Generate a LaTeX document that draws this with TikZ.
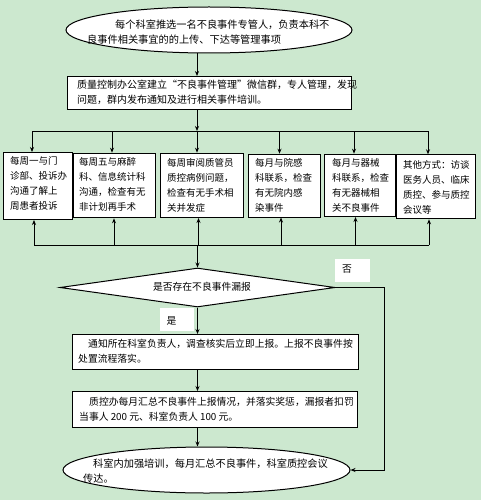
\documentclass[tikz,border=0pt]{standalone}
\usepackage{fontspec}
\setmainfont{Noto Sans CJK SC}
\usetikzlibrary{arrows.meta,shapes.geometric}
\definecolor{bg}{RGB}{204,232,207}
\begin{document}
\begin{tikzpicture}[x=1pt,y=-1pt,
  shapebox/.style={draw=black,line width=1pt,fill=white,inner sep=0pt,anchor=north west},
  ell/.style={ellipse,draw=black,line width=1pt,fill=white,inner sep=0pt},
  txt/.style={inner sep=0pt,align=left,anchor=west,font=\fontsize{#1}{15pt}\selectfont},
  txt/.default=10pt,
  conn/.style={line width=0.8pt,draw=black},
  arr/.style={conn,-{Stealth[length=5pt,width=4pt]}},
  lbl/.style={fill=white,inner sep=0pt,anchor=north west}]
\fill[bg] (0,0) rectangle (481,500);
\useasboundingbox (0,0) rectangle (481,500);

% shapes
\node[ell,minimum width=286pt,minimum height=46pt] (e1) at (209,30) {};
\node[shapebox,minimum width=284pt,minimum height=33pt] (b2) at (67,76) {};
\node[shapebox,minimum width=68.5pt,minimum height=67pt] (A) at (3,152) {};
\node[shapebox,minimum width=82.5pt,minimum height=64.6pt] (B) at (72.5,152.7) {};
\node[shapebox,minimum width=83pt,minimum height=64.3pt] (C) at (160,152.7) {};
\node[shapebox,minimum width=72pt,minimum height=62.8pt] (D) at (248,153.7) {};
\node[shapebox,minimum width=71pt,minimum height=62.3pt] (E) at (324,153.7) {};
\node[shapebox,minimum width=79pt,minimum height=64pt] (F) at (396,154.3) {};
\node[diamond,draw=black,line width=1pt,fill=white,inner sep=0pt,minimum width=275pt,minimum height=39pt] (d) at (197.5,287.5) {};
\node[shapebox,minimum width=286pt,minimum height=35pt] (b3) at (72,334) {};
\node[shapebox,minimum width=285pt,minimum height=36pt] (b4) at (72,391) {};
\node[ell,minimum width=287pt,minimum height=46pt] (e2) at (206.5,470) {};

% labels
\node[lbl,minimum width=35pt,minimum height=23pt] (nobox) at (335,259) {};
\node[txt=9.8pt,anchor=center] (notxt) at (347,269.5) {否};
\node[lbl,minimum width=34pt,minimum height=23pt] (yesbox) at (160,308) {};
\node[txt=9.8pt,anchor=center] (yestxt) at (171.5,320.5) {是};

% texts
\node[txt=10.2pt] (te1) at (87,32.5) {\hspace*{28pt}每个科室推选一名不良事件专管人，负责本科不\\良事件相关事宜的的上传、下达等管理事项};
\node[txt=10pt] (tb2) at (77,92) {质量控制办公室建立“不良事件管理”微信群，专人管理，发现\\问题，群内发布通知及进行相关事件培训。};
\node[txt=9.5pt] (tA) at (10,183.5) {每周一与门\\诊部、投诉办\\沟通了解上\\周患者投诉};
\node[txt=9.5pt] (tB) at (79,184) {每周五与麻醉\\科、信息统计科\\沟通，检查有无\\非计划再手术};
\node[txt=9.5pt] (tC) at (167,185.5) {每周审阅质管员\\质控病例问题，\\检查有无手术相\\关并发症};
\node[txt=9.5pt] (tD) at (255,185.5) {每月与院感\\科联系，检查\\有无院内感\\染事件};
\node[txt=9.5pt] (tE) at (332,185.5) {每月与器械\\科联系，检查\\有无器械相\\关不良事件};
\node[txt=9.5pt] (tF) at (403,187) {其他方式：访谈\\医务人员、临床\\质控、参与质控\\会议等};
\node[txt=9.8pt,anchor=center] (td) at (202,286.5) {是否存在不良事件漏报};
\node[txt=9.8pt] (tb3) at (78,351) {\hspace*{10pt}通知所在科室负责人，调查核实后立即上报。上报不良事件按\\处置流程落实。};
\node[txt=9.8pt] (tb4) at (79,409.5) {\hspace*{10pt}质控办每月汇总不良事件上报情况，并落实奖惩，漏报者扣罚\\当事人 200 元、科室负责人 100 元。};
\node[txt=10.2pt] (te2) at (83,471.5) {\hspace*{10pt}科室内加强培训，每月汇总不良事件，科室质控会议\\传达。};

% bus coordinates
\foreach \n/\x in {A/32,B/112,C/197,D/279.5,E/354,F/428}{
  \coordinate (t\n) at (\x,131);
}
\foreach \n/\x in {A/34,B/114,C/198.5,D/281,E/355.5,F/429}{
  \coordinate (u\n) at (\x,245);
}
\coordinate (uM) at (197.5,245);
\coordinate (noturn) at (384,287.5);

% connectors
\draw[arr] (e1.south -| tC) -- (b2.north -| tC);
\draw[arr] (b2.south -| tC) -- (tC);
\draw[conn] (tA) -- (tF);
\foreach \n in {A,B,C,D,E,F}{
  \draw[arr] (t\n) -- (t\n |- \n.north);
  \draw[arr] (u\n) -- (u\n |- \n.south);
}
\draw[conn] (uA) -- (uF);
\draw[arr] (uM) -- (d.north);
\draw[arr] (d.south) -- (d.south |- b3.north);
\draw[arr] (b3.south -| d.south) -- (b4.north -| d.south);
\draw[arr] (b4.south -| d.south) -- (e2.north -| d.south);
\draw[arr] (d.east) -- (noturn) |- (e2.east);
\end{tikzpicture}
\end{document}
